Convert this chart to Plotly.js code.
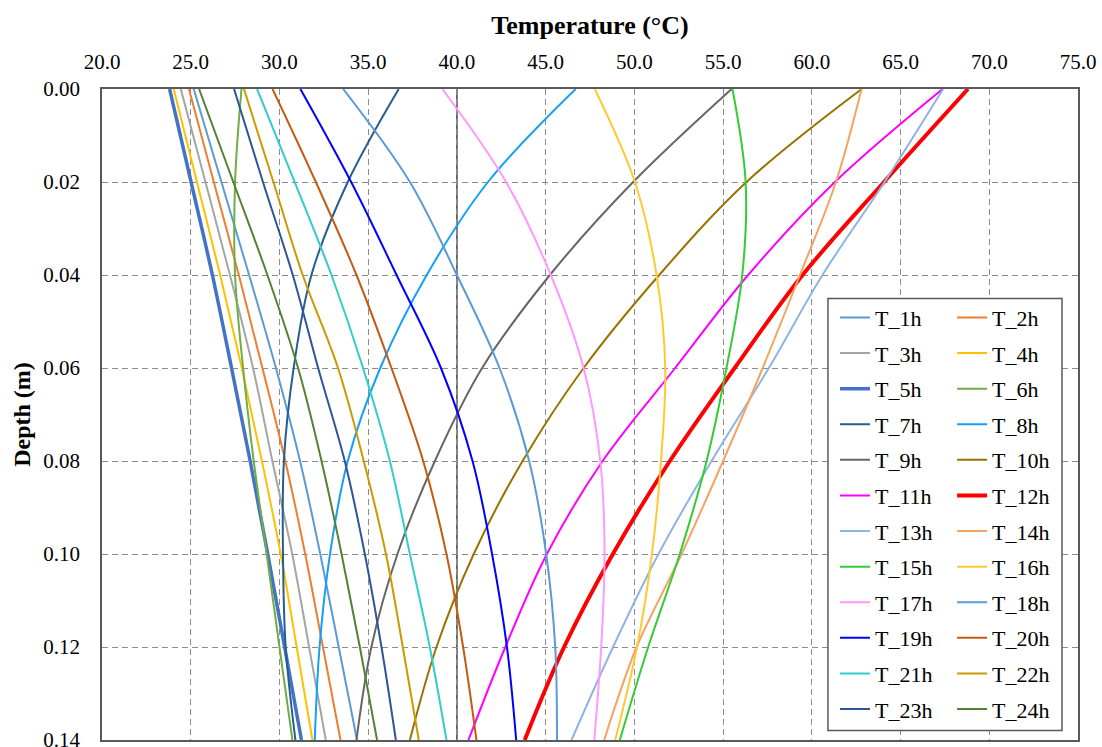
<!DOCTYPE html>
<html>
<head>
<meta charset="utf-8">
<script src="https://cdn.plot.ly/plotly-3.0.1.min.js"></script>
<style>
html,body{margin:0;padding:0;background:#ffffff;}
#chart{width:1102px;height:747px;}
</style>
</head>
<body>
<div id="chart"></div>
<script>
// Depth (m) at which temperatures were read
const depth = [0, 0.02, 0.04, 0.06, 0.08, 0.10, 0.12, 0.14];

// Temperature (°C) profiles, one per hour
const T_1h  = [25.17, 26.73, 28.29, 29.80, 31.16, 32.30, 33.34, 34.37];
const T_2h  = [24.90, 26.30, 27.71, 29.04, 30.33, 31.45, 32.45, 33.44];
const T_3h  = [24.44, 25.83, 27.21, 28.51, 29.60, 30.72, 31.67, 32.61];
const T_4h  = [24.04, 25.35, 26.66, 27.88, 29.01, 30.07, 30.97, 31.86];
const T_5h  = [23.81, 25.02, 26.22, 27.30, 28.35, 29.34, 30.29, 31.24];
const T_6h  = [27.86, 27.50, 27.50, 27.95, 28.55, 29.28, 30.00, 30.73];
const T_7h  = [36.72, 33.85, 31.80, 30.80, 30.25, 30.20, 30.35, 30.90];
const T_8h  = [46.69, 41.75, 38.30, 35.68, 33.85, 32.85, 32.26, 31.99];
const T_9h  = [55.48, 49.93, 45.24, 41.42, 38.76, 36.65, 35.18, 34.34];
const T_10h = [62.81, 56.32, 51.40, 47.14, 43.70, 40.95, 38.85, 37.35];
const T_11h = [67.37, 61.30, 56.41, 52.30, 48.21, 45.07, 42.73, 40.65];
const T_12h = [68.80, 64.07, 59.48, 55.65, 52.00, 48.79, 46.04, 43.82];
const T_13h = [67.40, 64.10, 60.60, 57.58, 54.35, 51.36, 48.80, 46.46];
const T_14h = [62.80, 61.36, 59.33, 57.23, 55.00, 52.66, 50.13, 48.30];
const T_15h = [55.53, 56.27, 56.08, 55.19, 54.07, 52.56, 50.78, 49.18];
const T_16h = [47.77, 50.03, 51.25, 51.74, 51.50, 50.99, 50.15, 48.92];
const T_17h = [39.18, 42.77, 45.29, 47.14, 48.08, 48.32, 48.13, 47.74];
const T_18h = [33.59, 37.35, 40.00, 42.40, 44.07, 45.03, 45.54, 45.64];
const T_19h = [31.18, 34.04, 36.60, 39.10, 40.88, 41.98, 42.82, 43.34];
const T_20h = [29.61, 32.05, 34.34, 36.31, 38.10, 39.41, 40.35, 41.10];
const T_21h = [28.74, 30.86, 32.93, 34.71, 36.22, 37.35, 38.47, 39.41];
const T_22h = [28.00, 29.66, 31.31, 33.30, 34.75, 36.00, 36.95, 37.85];
const T_23h = [27.44, 29.07, 30.75, 32.18, 33.68, 34.81, 35.75, 36.56];
const T_24h = [25.47, 27.40, 29.32, 31.05, 32.37, 33.50, 34.53, 35.50];

const seriesNames = ['T_1h','T_2h','T_3h','T_4h','T_5h','T_6h','T_7h','T_8h',
  'T_9h','T_10h','T_11h','T_12h','T_13h','T_14h','T_15h','T_16h',
  'T_17h','T_18h','T_19h','T_20h','T_21h','T_22h','T_23h','T_24h'];
const seriesValues = [T_1h,T_2h,T_3h,T_4h,T_5h,T_6h,T_7h,T_8h,
  T_9h,T_10h,T_11h,T_12h,T_13h,T_14h,T_15h,T_16h,
  T_17h,T_18h,T_19h,T_20h,T_21h,T_22h,T_23h,T_24h];

// Axis tick values
const xTickVals = [20, 25, 30, 35, 40, 45, 50, 55, 60, 65, 70, 75];
const yTickVals = [0, 0.02, 0.04, 0.06, 0.08, 0.10, 0.12, 0.14];

const seriesColors = ['#5B9BD5','#ED7D31','#A5A5A5','#FFC000','#4472C4','#70AD47','#255E91','#14A0F5',
  '#666666','#997300','#FF00FF','#FF0000','#8EB4E3','#F4A460','#33CC33','#FFC933',
  '#FF99FF','#5A9AD6','#0000FF','#C55A11','#33CCCC','#CC9900','#2F5597','#548235'];
const seriesWidths = [2,2,2,2,3.5,2,2,2, 2,2,2,4,2,2,2,2, 2,2,2,2,2,2,2,2];

const FONT = 'Liberation Serif, Times New Roman, serif';

const traces = seriesNames.map((name, i) => ({
  type: 'scatter',
  mode: 'lines',
  name: name,
  x: seriesValues[i],
  y: depth,
  line: {color: seriesColors[i], width: seriesWidths[i], shape: 'spline', smoothing: 1},
  legend: (i % 2 === 0) ? 'legend' : 'legend2',
  legendgroup: name,
  hoverinfo: 'x+y+name'
}));

const crossAt = 40;

const legendCommon = {
  xanchor: 'left', yanchor: 'top',
  bgcolor: 'rgba(0,0,0,0)', borderwidth: 0,
  font: {family: FONT, size: 22, color: '#000'},
  traceorder: 'grouped', tracegroupgap: 4,
  itemclick: false, itemdoubleclick: false
};

const layout = {
  width: 1102, height: 747,
  margin: {l: 102, r: 24, t: 89, b: 7, pad: 0},
  paper_bgcolor: '#ffffff', plot_bgcolor: '#ffffff',
  font: {family: FONT, size: 21, color: '#000'},
  showlegend: true,
  xaxis: {
    side: 'top', range: [20, 75], autorange: false,
    tickmode: 'array', tickvals: xTickVals, tickformat: '.1f',
    showgrid: true, gridcolor: '#8c8c8c', griddash: '6px,4px', gridwidth: 1.2,
    showline: true, linecolor: '#595959', linewidth: 1.5, mirror: true,
    ticks: '', zeroline: false, ticklabelstandoff: 10, ticklabeloverflow: 'allow',
    tickfont: {family: FONT, size: 21, color: '#000'},
    title: {text: '<b>Temperature (°C)</b>', font: {family: FONT, size: 26, color: '#000'}, standoff: 8}
  },
  yaxis: {
    range: [0.14, 0], autorange: false,
    tickmode: 'array', tickvals: yTickVals, tickformat: '.2f',
    showgrid: true, gridcolor: '#8c8c8c', griddash: '6px,4px', gridwidth: 1.2,
    showline: true, linecolor: '#595959', linewidth: 1.5, mirror: true,
    ticks: '', zeroline: false, ticklabelstandoff: 16, ticklabeloverflow: 'allow',
    tickfont: {family: FONT, size: 21, color: '#000'},
    title: {text: '<b>Depth (m)</b>', font: {family: FONT, size: 24, color: '#000'}, standoff: 6}
  },
  legend: Object.assign({x: 0.751, y: 0.681}, legendCommon),
  legend2: Object.assign({x: 0.871, y: 0.681}, legendCommon),
  shapes: [
    {type: 'line', xref: 'x', yref: 'paper', x0: crossAt, x1: crossAt, y0: 0, y1: 1,
     line: {color: '#404040', width: 1.5}, layer: 'below'},
    {type: 'rect', xref: 'paper', yref: 'paper', x0: 0.7438, x1: 0.9836, y0: 0.0146, y1: 0.678,
     fillcolor: '#ffffff', line: {color: '#595959', width: 1.5}, layer: 'above'}
  ]
};

Plotly.newPlot('chart', traces, layout, {displayModeBar: false, responsive: false});
</script>
</body>
</html>
